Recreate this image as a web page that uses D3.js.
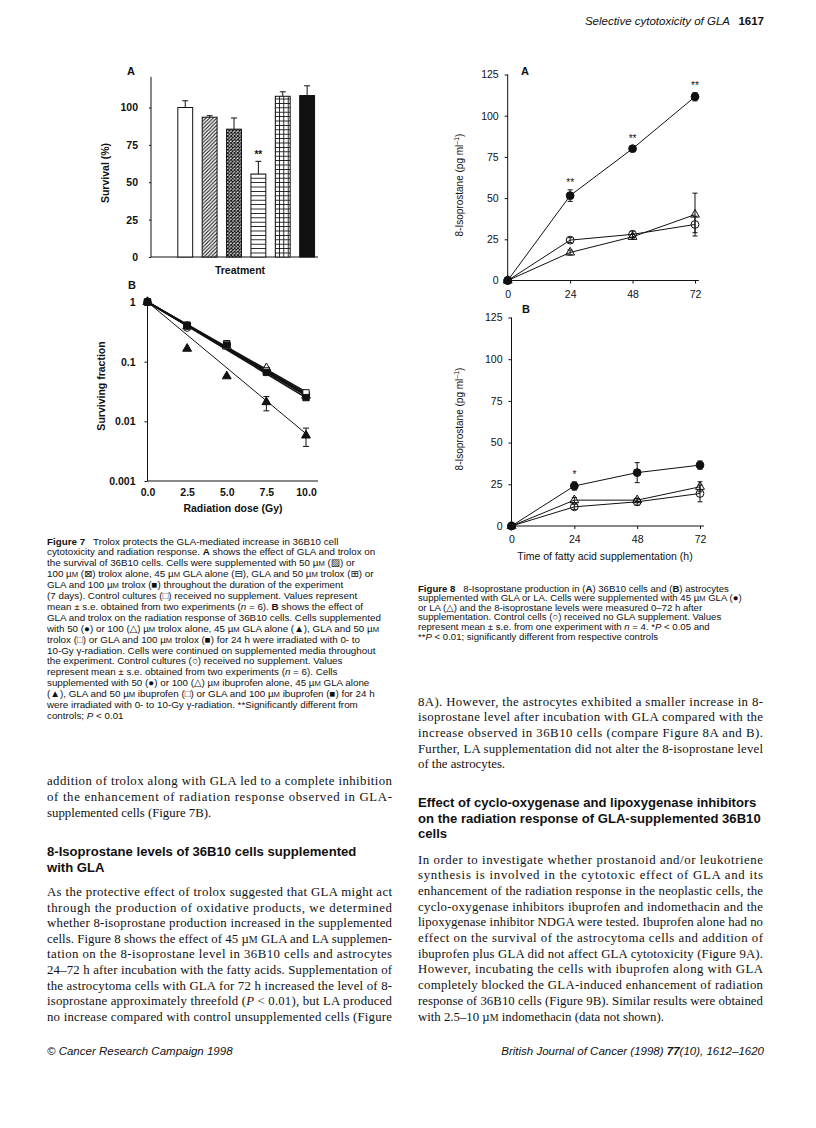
<!DOCTYPE html>
<html><head><meta charset="utf-8">
<script src="https://cdn.jsdelivr.net/npm/d3@7"></script>
<style>body{margin:0;background:#fff} svg{display:block} text{white-space:pre}</style>
</head><body>
<svg id="page" width="816" height="1128"></svg>
<script>
// ---------------- DATA ----------------
// Figure 7A – survival (%) of 36B10 cells
const fig7aCategories = ["Control", "Trolox 50 µM", "Trolox 100 µM", "GLA 45 µM", "GLA + trolox 50 µM", "GLA + trolox 100 µM"];
const fig7aSurvival = [100, 93.5, 85.5, 55.5, 107.5, 108];
const fig7aError = [4.5, 1, 7.5, 8.5, 3, 6.5];
const fig7aSig = ["", "", "", "**", "", ""];
const fig7aYTicks = [0, 25, 50, 75, 100];

// Figure 7B – surviving fraction vs radiation dose
const fig7bDose = [0, 2.5, 5, 7.5, 10];
const fig7bDoseTicks = [0, 2.5, 5, 7.5, 10];
const fig7bYTicks = [1, 0.1, 0.01, 0.001];
const fig7bControl = [1, 0.37, 0.19, 0.072, 0.029];
const fig7bTrolox50 = [1, 0.40, 0.195, 0.074, 0.028];
const fig7bTrolox100 = [1, 0.39, 0.18, 0.078, 0.027];
const fig7bGlaTrolox50 = [1, 0.41, 0.20, 0.070, 0.030];
const fig7bGlaTrolox100 = [1, 0.40, 0.19, 0.066, 0.025];
const fig7bGla = [1, 0.165, 0.057, 0.021, 0.0058];
const fig7bGlaErrLow = [null, null, null, 0.015, 0.0038];
const fig7bGlaErrHigh = [null, null, null, 0.026, 0.0077];
// fitted line value at 10 Gy, each line starts at SF = 1
const fig7bFitEnd = [0.029, 0.028, 0.027, 0.031, 0.025, 0.0062];

// Figure 8 – 8-isoprostane (pg/ml) vs time (h)
const fig8Time = [0, 24, 48, 72];
const fig8TimeTicks = [0, 24, 48, 72];
const fig8YTicks = [0, 25, 50, 75, 100, 125];
const fig8aGla = [0, 51.5, 80, 111.5];
const fig8aGlaErr = [0, 3.5, 1.5, 2.5];
const fig8aLa = [0, 17, 26.5, 40];
const fig8aLaErr = [0, 1.5, 1.5, 13];
const fig8aControl = [0, 24.5, 28, 34];
const fig8aControlErr = [0, 1.5, 2, 5];
const fig8aSig = ["", "**", "**", "**"];
const fig8bGla = [0, 24, 32, 36.5];
const fig8bGlaErr = [0, 2.5, 6, 2.5];
const fig8bLa = [0, 15.5, 15.5, 23.5];
const fig8bLaErr = [0, 1.5, 1, 3];
const fig8bControl = [0, 11.5, 14.5, 19.5];
const fig8bControlErr = [0, 1.5, 2, 5];
const fig8bSig = ["", "*", "", ""];

// ---------------- TEXT ----------------
const headerTitle = "Selective cytotoxicity of GLA";
const headerPage = "1617";
const fig7Caption = [
 "<b>Figure 7</b>   Trolox protects the GLA-mediated increase in 36B10 cell",
 "cytotoxicity and radiation response. <b>A</b> shows the effect of GLA and trolox on",
 "the survival of 36B10 cells. Cells were supplemented with 50 µ<s>M</s> (▨) or",
 "100 µ<s>M</s> (⊠) trolox alone, 45 µ<s>M</s> GLA alone (⊟), GLA and 50 µ<s>M</s> trolox (⊞) or",
 "GLA and 100 µ<s>M</s> trolox (■) throughout the duration of the experiment",
 "(7 days). Control cultures (□) received no supplement. Values represent",
 "mean ± s.e. obtained from two experiments (<i>n</i> = 6). <b>B</b> shows the effect of",
 "GLA and trolox on the radiation response of 36B10 cells. Cells supplemented",
 "with 50 (●) or 100 (△) µ<s>M</s> trolox alone, 45 µ<s>M</s> GLA alone (▲), GLA and 50 µ<s>M</s>",
 "trolox (□) or GLA and 100 µ<s>M</s> trolox (■) for 24 h were irradiated with 0- to",
 "10-Gy γ-radiation. Cells were continued on supplemented media throughout",
 "the experiment. Control cultures (○) received no supplement. Values",
 "represent mean ± s.e. obtained from two experiments (<i>n</i> = 6). Cells",
 "supplemented with 50 (●) or 100 (△) µ<s>M</s> ibuprofen alone, 45 µ<s>M</s> GLA alone",
 "(▲), GLA and 50 µ<s>M</s> ibuprofen (□) or GLA and 100 µ<s>M</s> ibuprofen (■) for 24 h",
 "were irradiated with 0- to 10-Gy γ-radiation. **Significantly different from",
 "controls; <i>P</i> < 0.01"
];
const fig8Caption = [
 "<b>Figure 8</b>   8-Isoprostane production in (<b>A</b>) 36B10 cells and (<b>B</b>) astrocytes",
 "supplemented with GLA or LA. Cells were supplemented with 45 µ<s>M</s> GLA (●)",
 "or LA (△) and the 8-isoprostane levels were measured 0–72 h after",
 "supplementation. Control cells (○) received no GLA supplement. Values",
 "represent mean ± s.e. from one experiment with <i>n</i> = 4. *<i>P</i> < 0.05 and",
 "**<i>P</i> < 0.01; significantly different from respective controls"
];
const leftPara1 = [
 "addition of trolox along with GLA led to a complete inhibition",
 "of the enhancement of radiation response observed in GLA-",
 "supplemented cells (Figure 7B)."
];
const leftHeading = ["8-Isoprostane levels of 36B10 cells supplemented", "with GLA"];
const leftPara2 = [
 "As the protective effect of trolox suggested that GLA might act",
 "through the production of oxidative products, we determined",
 "whether 8-isoprostane production increased in the supplemented",
 "cells. Figure 8 shows the effect of 45 µ<s>M</s> GLA and LA supplemen-",
 "tation on the 8-isoprostane level in 36B10 cells and astrocytes",
 "24–72 h after incubation with the fatty acids. Supplementation of",
 "the astrocytoma cells with GLA for 72 h increased the level of 8-",
 "isoprostane approximately threefold (<i>P</i> < 0.01), but LA produced",
 "no increase compared with control unsupplemented cells (Figure"
];
const rightPara1 = [
 "8A). However, the astrocytes exhibited a smaller increase in 8-",
 "isoprostane level after incubation with GLA compared with the",
 "increase observed in 36B10 cells (compare Figure 8A and B).",
 "Further, LA supplementation did not alter the 8-isoprostane level",
 "of the astrocytes."
];
const rightHeading = ["Effect of cyclo-oxygenase and lipoxygenase inhibitors", "on the radiation response of GLA-supplemented 36B10", "cells"];
const rightPara2 = [
 "In order to investigate whether prostanoid and/or leukotriene",
 "synthesis is involved in the cytotoxic effect of GLA and its",
 "enhancement of the radiation response in the neoplastic cells, the",
 "cyclo-oxygenase inhibitors ibuprofen and indomethacin and the",
 "lipoxygenase inhibitor NDGA were tested. Ibuprofen alone had no",
 "effect on the survival of the astrocytoma cells and addition of",
 "ibuprofen plus GLA did not affect GLA cytotoxicity (Figure 9A).",
 "However, incubating the cells with ibuprofen along with GLA",
 "completely blocked the GLA-induced enhancement of radiation",
 "response of 36B10 cells (Figure 9B). Similar results were obtained",
 "with 2.5–10 µ<s>M</s> indomethacin (data not shown)."
];
const footerLeft = "© Cancer Research Campaign 1998";
const footerRight = "British Journal of Cancer (1998) <bi>77</bi>(10), 1612–1620";

// ---------------- DRAWING ----------------
const SANS = "'Liberation Sans', Arial, Helvetica, 'DejaVu Sans', sans-serif";
const SERIF = "'Liberation Serif', 'Times New Roman', serif";
const INK = "#111";
const svg = d3.select("#page");
svg.append("rect").attr("width", 816).attr("height", 1128).attr("fill", "#fff");

function rich(g, x, y, str, o) {
  const t = g.append("text").attr("x", x).attr("y", y)
    .attr("font-family", o.family).attr("font-size", o.size).attr("fill", INK);
  if (o.anchor) t.attr("text-anchor", o.anchor);
  if (o.italic) t.attr("font-style", "italic");
  if (o.bold) t.attr("font-weight", "bold");
  const re = /<(bi|b|i|s)>(.*?)<\/\1>/g;
  let last = 0, m;
  while ((m = re.exec(str))) {
    if (m.index > last) t.append("tspan").text(str.slice(last, m.index));
    const sp = t.append("tspan").text(m[2]);
    if (m[1] === "b" || m[1] === "bi") sp.attr("font-weight", "bold");
    if (m[1] === "i" || m[1] === "bi") sp.attr("font-style", "italic");
    if (m[1] === "s") sp.attr("font-size", o.size * 0.78);
    last = re.lastIndex;
  }
  if (last < str.length) t.append("tspan").text(str.slice(last));
  if (o.width) t.attr("textLength", o.width).attr("lengthAdjust", "spacing");
  return t;
}
function block(lines, x, y0, lh, o, justifyAll) {
  lines.forEach((s, i) => {
    const opt = Object.assign({}, o);
    if (o.width && !(justifyAll || i < lines.length - 1)) delete opt.width;
    rich(svg, x, y0 + i * lh, s, opt);
  });
}

// header
rich(svg, 730, 25, headerTitle, {family: SANS, size: 11.5, anchor: "end", italic: true});
rich(svg, 764, 25, headerPage, {family: SANS, size: 11.5, anchor: "end", bold: true});

// patterns
const defs = svg.append("defs");
function pat(id, w, h, draw) {
  const p = defs.append("pattern").attr("id", id).attr("patternUnits", "userSpaceOnUse")
    .attr("width", w).attr("height", h);
  p.append("rect").attr("width", w).attr("height", h).attr("fill", "#fff");
  draw(p);
}
pat("pDiag", 3.6, 3.6, p => p.append("path").attr("d", "M-1,1 L1,-1 M0,3.6 L3.6,0 M2.6,4.6 L4.6,2.6").attr("stroke", INK).attr("stroke-width", 1.1));
pat("pCross", 3.4, 3.4, p => p.append("path").attr("d", "M0,3.4 L3.4,0 M0,0 L3.4,3.4").attr("stroke", INK).attr("stroke-width", 1.1));
pat("pHoriz", 4.4, 4.4, p => p.append("path").attr("d", "M0,2.2 H4.4").attr("stroke", INK).attr("stroke-width", 0.9));
pat("pGrid", 4.4, 4.4, p => p.append("path").attr("d", "M0,2.2 H4.4 M2.2,0 V4.4").attr("stroke", INK).attr("stroke-width", 0.9));
const fig7aFill = {"Control": "#fff", "Trolox 50 µM": "url(#pDiag)", "Trolox 100 µM": "url(#pCross)",
  "GLA 45 µM": "url(#pHoriz)", "GLA + trolox 50 µM": "url(#pGrid)", "GLA + trolox 100 µM": INK};

function styleAxis(g, size, bold) {
  g.selectAll("text").attr("font-family", SANS).attr("font-size", size).attr("fill", INK)
    .attr("font-weight", bold ? "bold" : "normal");
  g.selectAll("line,path").attr("stroke", INK);
}

// ---------- Figure 7A ----------
{
  const g = svg.append("g");
  const y = d3.scaleLinear().domain([0, 100]).range([257, 107.5]);
  const xAll = d3.scaleBand().domain(["_"].concat(fig7aCategories)).range([151, 317]).paddingInner(0.39).paddingOuter(0.1);
  g.append("line").attr("x1", 151).attr("x2", 151).attr("y1", y(0)).attr("y2", y(120.5)).attr("stroke", INK);
  g.append("line").attr("x1", 151).attr("x2", 318).attr("y1", y(0)).attr("y2", y(0)).attr("stroke", INK);
  const ay = g.append("g").attr("transform", "translate(151,0)")
    .call(d3.axisLeft(y).tickValues(fig7aYTicks).tickSize(2).tickPadding(11));
  ay.select(".domain").remove();
  styleAxis(ay, 10.5, true);
  g.selectAll(".bar").data(fig7aCategories).join("rect")
    .attr("x", d => xAll(d)).attr("width", xAll.bandwidth())
    .attr("y", (d, i) => y(fig7aSurvival[i])).attr("height", (d, i) => y(0) - y(fig7aSurvival[i]))
    .attr("fill", d => fig7aFill[d]).attr("stroke", INK).attr("stroke-width", 1);
  fig7aCategories.forEach((c, i) => {
    const cx = xAll(c) + xAll.bandwidth() / 2, top = y(fig7aSurvival[i] + fig7aError[i]);
    g.append("line").attr("x1", cx).attr("x2", cx).attr("y1", y(fig7aSurvival[i])).attr("y2", top).attr("stroke", INK);
    g.append("line").attr("x1", cx - 3).attr("x2", cx + 3).attr("y1", top).attr("y2", top).attr("stroke", INK);
    if (fig7aSig[i]) g.append("text").attr("x", cx).attr("y", top - 3).attr("text-anchor", "middle")
      .attr("font-family", SANS).attr("font-size", 10).attr("font-weight", "bold").attr("fill", INK).text(fig7aSig[i]);
  });
  g.append("text").attr("x", 127).attr("y", 75).attr("font-family", SANS).attr("font-size", 11).attr("font-weight", "bold").attr("fill", INK).text("A");
  g.append("text").attr("x", 240).attr("y", 274).attr("text-anchor", "middle").attr("font-family", SANS).attr("font-size", 10.5).attr("font-weight", "bold").attr("fill", INK).text("Treatment");
  g.append("text").attr("transform", "translate(109,173) rotate(-90)").attr("text-anchor", "middle").attr("font-family", SANS).attr("font-size", 10.5).attr("font-weight", "bold").attr("fill", INK).text("Survival (%)");
}

// ---------- Figure 7B ----------
{
  const g = svg.append("g");
  const x = d3.scaleLinear().domain([0, 10]).range([147.5, 306]);
  const y = d3.scaleLog().domain([0.001, 1]).range([481, 302]);
  g.append("line").attr("x1", x(0)).attr("x2", x(0)).attr("y1", y(0.001)).attr("y2", y(1)).attr("stroke", INK);
  g.append("line").attr("x1", x(0)).attr("x2", 318).attr("y1", y(0.001)).attr("y2", y(0.001)).attr("stroke", INK);
  const ay = g.append("g").attr("transform", `translate(${x(0)},0)`)
    .call(d3.axisLeft(y).tickValues(fig7bYTicks).tickFormat(d => String(d)).tickSize(3).tickPadding(9));
  ay.select(".domain").remove(); styleAxis(ay, 10.5, true);
  const ax = g.append("g").attr("transform", `translate(0,${y(0.001)})`)
    .call(d3.axisBottom(x).tickValues(fig7bDoseTicks).tickFormat(d3.format(".1f")).tickSize(0).tickPadding(8));
  ax.select(".domain").remove(); styleAxis(ax, 10.5, true);

  const series = [
    {v: fig7bControl, m: "circleOpen"}, {v: fig7bTrolox50, m: "circle"}, {v: fig7bTrolox100, m: "triOpen"},
    {v: fig7bGlaTrolox50, m: "squareOpen"}, {v: fig7bGlaTrolox100, m: "square"}, {v: fig7bGla, m: "tri"}];
  series.forEach((s, k) => {
    g.append("line").attr("x1", x(fig7bDose[0])).attr("y1", y(s.v[0]))
      .attr("x2", x(fig7bDose[fig7bDose.length - 1])).attr("y2", y(fig7bFitEnd[k]))
      .attr("stroke", INK).attr("stroke-width", k === 5 ? 1 : 1.6);
  });
  fig7bDose.forEach((d, i) => {
    if (fig7bGlaErrLow[i] == null) return;
    const cx = x(d), a = y(fig7bGlaErrLow[i]), b = y(fig7bGlaErrHigh[i]);
    g.append("line").attr("x1", cx).attr("x2", cx).attr("y1", a).attr("y2", b).attr("stroke", INK);
    [a, b].forEach(yy => g.append("line").attr("x1", cx - 3).attr("x2", cx + 3).attr("y1", yy).attr("y2", yy).attr("stroke", INK));
  });
  const sym = {circle: d3.symbolCircle, circleOpen: d3.symbolCircle, square: d3.symbolSquare, squareOpen: d3.symbolSquare, tri: d3.symbolTriangle, triOpen: d3.symbolTriangle};
  series.forEach(s => {
    const open = /Open/.test(s.m);
    g.selectAll(null).data(fig7bDose).join("path")
      .attr("transform", (d, i) => `translate(${x(d)},${y(s.v[i])})`)
      .attr("d", d3.symbol().type(sym[s.m]).size(s.m.startsWith("tri") ? 34 : 40))
      .attr("fill", open ? "#fff" : INK).attr("stroke", INK).attr("stroke-width", 1);
  });
  g.append("text").attr("x", 128).attr("y", 289).attr("font-family", SANS).attr("font-size", 11).attr("font-weight", "bold").attr("fill", INK).text("B");
  g.append("text").attr("x", 233).attr("y", 512).attr("text-anchor", "middle").attr("font-family", SANS).attr("font-size", 10.5).attr("font-weight", "bold").attr("fill", INK).text("Radiation dose (Gy)");
  g.append("text").attr("transform", "translate(105,386) rotate(-90)").attr("text-anchor", "middle").attr("font-family", SANS).attr("font-size", 10.5).attr("font-weight", "bold").attr("fill", INK).text("Surviving fraction");
}

// ---------- Figure 8 ----------
function fig8(opt) {
  const g = svg.append("g");
  const x = d3.scaleLinear().domain([0, 72]).range(opt.xr);
  const y = d3.scaleLinear().domain([0, 125]).range(opt.yr);
  g.append("line").attr("x1", x(0)).attr("x2", x(0)).attr("y1", y(0)).attr("y2", y(125)).attr("stroke", INK);
  g.append("line").attr("x1", x(0)).attr("x2", x(73.5)).attr("y1", y(0)).attr("y2", y(0)).attr("stroke", INK);
  const ay = g.append("g").attr("transform", `translate(${x(0)},0)`)
    .call(d3.axisLeft(y).tickValues(fig8YTicks).tickSize(3).tickPadding(6));
  ay.select(".domain").remove(); styleAxis(ay, 10.5, false);
  const ax = g.append("g").attr("transform", `translate(0,${y(0)})`)
    .call(d3.axisBottom(x).tickValues(fig8TimeTicks).tickSize(3).tickPadding(7));
  ax.select(".domain").remove(); styleAxis(ax, 10.5, false);
  const line = d3.line().x((d, i) => x(fig8Time[i])).y(d => y(d));
  const series = [
    {v: opt.control, e: opt.controlErr, m: "circleOpen"},
    {v: opt.la, e: opt.laErr, m: "triOpen"},
    {v: opt.gla, e: opt.glaErr, m: "circle"}];
  series.forEach(s => g.append("path").attr("d", line(s.v)).attr("fill", "none").attr("stroke", INK).attr("stroke-width", 1));
  series.forEach(s => {
    fig8Time.forEach((t, i) => {
      if (!s.e[i]) return;
      const cx = x(t), a = y(s.v[i] - s.e[i]), b = y(s.v[i] + s.e[i]);
      g.append("line").attr("x1", cx).attr("x2", cx).attr("y1", a).attr("y2", b).attr("stroke", INK);
      [a, b].forEach(yy => g.append("line").attr("x1", cx - 2.5).attr("x2", cx + 2.5).attr("y1", yy).attr("y2", yy).attr("stroke", INK));
    });
  });
  series.forEach(s => {
    const open = /Open/.test(s.m);
    g.selectAll(null).data(fig8Time).join("path")
      .attr("transform", (t, i) => `translate(${x(t)},${y(s.v[i])})`)
      .attr("d", d3.symbol().type(s.m.startsWith("tri") ? d3.symbolTriangle : d3.symbolCircle).size(s.m.startsWith("tri") ? 34 : 48))
      .attr("fill", open ? "none" : INK).attr("stroke", INK).attr("stroke-width", 1);
  });
  fig8Time.forEach((t, i) => {
    if (!opt.sig[i]) return;
    g.append("text").attr("x", x(t)).attr("y", y(opt.gla[i] + opt.glaErr[i]) - 4).attr("text-anchor", "middle")
      .attr("font-family", SANS).attr("font-size", 10).attr("fill", INK).text(opt.sig[i]);
  });
  g.append("text").attr("x", opt.label[0]).attr("y", opt.label[1]).attr("font-family", SANS).attr("font-size", 11).attr("font-weight", "bold").attr("fill", INK).text(opt.letter);
  const yl = g.append("text").attr("transform", `translate(${opt.ylab[0]},${opt.ylab[1]}) rotate(-90)`).attr("text-anchor", "middle")
    .attr("font-family", SANS).attr("font-size", 10).attr("fill", INK);
  yl.append("tspan").text("8-Isoprostane (pg ml");
  yl.append("tspan").attr("font-size", 7).attr("dy", -4).text("–1");
  yl.append("tspan").attr("dy", 4).text(")");
}
fig8({xr: [507.7, 695], yr: [280.5, 74.5], gla: fig8aGla, glaErr: fig8aGlaErr, la: fig8aLa, laErr: fig8aLaErr,
  control: fig8aControl, controlErr: fig8aControlErr, sig: fig8aSig, letter: "A", label: [521, 75], ylab: [463, 185]});
fig8({xr: [511.5, 700], yr: [526, 317.5], gla: fig8bGla, glaErr: fig8bGlaErr, la: fig8bLa, laErr: fig8bLaErr,
  control: fig8bControl, controlErr: fig8bControlErr, sig: fig8bSig, letter: "B", label: [522, 313], ylab: [463, 419]});
svg.append("text").attr("x", 605).attr("y", 560).attr("text-anchor", "middle").attr("font-family", SANS).attr("font-size", 10.5).attr("fill", INK).text("Time of fatty acid supplementation (h)");

// ---------- Captions & body text ----------
block(fig7Caption, 47, 544.5, 10.9, {family: SANS, size: 9.8});
block(fig8Caption, 418, 591.5, 9.6, {family: SANS, size: 9.6});

block(leftPara1, 47, 785, 15.8, {family: SERIF, size: 12.8, width: 345});
block(leftHeading, 47, 856, 15.5, {family: SANS, size: 13.1, bold: true});
block(leftPara2, 47, 896, 15.6, {family: SERIF, size: 12.8, width: 345}, true);
block(rightPara1, 418, 705.5, 15.7, {family: SERIF, size: 12.8, width: 345});
block(rightHeading, 418, 807, 15.6, {family: SANS, size: 13.1, bold: true});
block(rightPara2, 418, 863.5, 15.7, {family: SERIF, size: 12.8, width: 345});

rich(svg, 47, 1055, footerLeft, {family: SANS, size: 11.5, italic: true});
rich(svg, 764, 1055, footerRight, {family: SANS, size: 11.5, italic: true, anchor: "end"});
</script>
</body></html>
